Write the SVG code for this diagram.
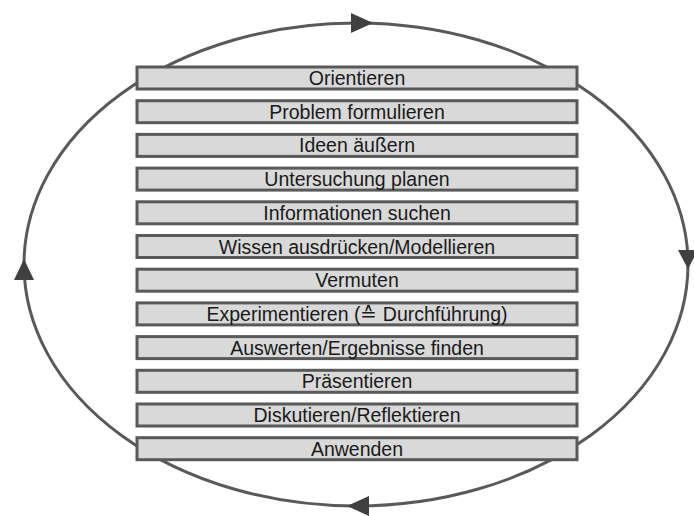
<svg xmlns="http://www.w3.org/2000/svg" width="694" height="516" viewBox="0 0 694 516">
<style>
.box rect{fill:#d9d9d9;stroke:#595959;stroke-width:3}
.box text{font-family:"Liberation Sans",Arial,sans-serif;font-size:19.5px;fill:#1a1a1a;text-anchor:middle}
.cyc{fill:none;stroke:#595959;stroke-width:3}
.ah{fill:#404040}
</style>
<rect width="694" height="516" fill="#fff"/>
<g id="connectors">
<ellipse class="cyc" cx="356" cy="264.5" rx="332" ry="241.5"/>
<polygon class="ah" points="373,23 351,13 351,33"/>
<polygon class="ah" points="688,269 678,250 698,250"/>
<polygon class="ah" points="347,506 369,496 369,516"/>
<polygon class="ah" points="24,259 14,280 34,280"/>
</g>
<g id="n1" class="box"><rect x="137" y="67" width="440" height="22"/><text x="357" y="85">Orientieren</text></g>
<g id="n2" class="box"><rect x="137" y="100.7" width="440" height="22"/><text x="357" y="118.7">Problem formulieren</text></g>
<g id="n3" class="box"><rect x="137" y="134.4" width="440" height="22"/><text x="357" y="152.4">Ideen äußern</text></g>
<g id="n4" class="box"><rect x="137" y="168.1" width="440" height="22"/><text x="357" y="186.1">Untersuchung planen</text></g>
<g id="n5" class="box"><rect x="137" y="201.8" width="440" height="22"/><text x="357" y="219.8">Informationen suchen</text></g>
<g id="n6" class="box"><rect x="137" y="235.5" width="440" height="22"/><text x="357" y="253.5">Wissen ausdrücken/Modellieren</text></g>
<g id="n7" class="box"><rect x="137" y="269.2" width="440" height="22"/><text x="357" y="287.2">Vermuten</text></g>
<g id="n8" class="box"><rect x="137" y="302.9" width="440" height="22"/><text x="357" y="320.9">Experimentieren (≙ Durchführung)</text></g>
<g id="n9" class="box"><rect x="137" y="336.6" width="440" height="22"/><text x="357" y="354.6">Auswerten/Ergebnisse finden</text></g>
<g id="n10" class="box"><rect x="137" y="370.3" width="440" height="22"/><text x="357" y="388.3">Präsentieren</text></g>
<g id="n11" class="box"><rect x="137" y="404" width="440" height="22"/><text x="357" y="422">Diskutieren/Reflektieren</text></g>
<g id="n12" class="box"><rect x="137" y="437.7" width="440" height="22"/><text x="357" y="455.7">Anwenden</text></g>
</svg>
